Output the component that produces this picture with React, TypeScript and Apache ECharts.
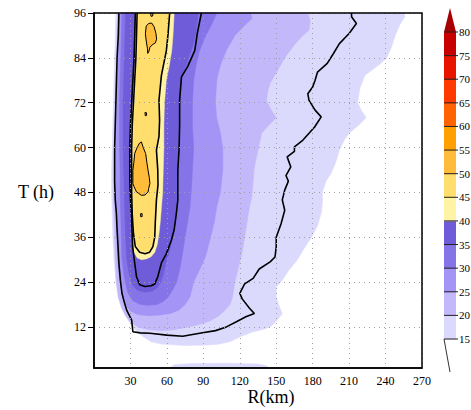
import React, { useEffect, useRef } from "react";
import * as echarts from "echarts";

// ---------- axes ----------
const R_MIN = 0;
const R_MAX = 270;
const R_STEP = 30;
const T_MIN = 1;
const T_MAX = 96;
const T_TICKS = [12, 24, 36, 48, 60, 72, 84, 96];

// ---------- colour scale ----------
const LEVELS = [15, 20, 25, 30, 35, 40, 45, 50, 55, 60, 65, 70, 75, 80];
const BAND_COLORS = [
  "#dcdafc", "#c2b8fa", "#a394f6", "#8474e8", "#6e5cd8",
  "#fff4a6", "#ffde6e", "#ffbb3a", "#ffa000", "#ff6400",
  "#ff3a00", "#e81400", "#c80000",
];
const ABOVE_COLOR = "#a80000";

// ---------- shaded regions (value >= level), points are [R km, T h] ----------
const SHADE_15 = [
  [18, 96], [17.5, 90], [17, 84], [16.5, 78], [16, 72], [15.5, 66], [15, 60], [14.5, 54], [14.5, 48], [15, 42],
  [15.5, 36], [16.5, 30], [18, 24], [20, 20], [22.5, 17], [25, 15.5], [28, 13.8], [33, 11.5], [40, 9.5], [47, 8],
  [55, 7.4], [75, 7.0], [90, 7.1], [101, 7.3], [112, 8], [120, 9.3], [130, 10.6], [140, 11.4], [145, 12], [150, 13.5],
  [155, 15.5], [152, 18], [150, 20], [150, 22.6], [155, 24.5], [160, 27], [167, 29.8], [173, 33], [179, 36], [184, 39],
  [187, 42.4], [188, 45], [188, 48], [191, 51], [195, 53], [199, 56], [202, 59.3], [206, 62], [210, 63.8], [218, 66],
  [224, 68], [220, 70], [217, 72], [219, 76], [223, 79.3], [230, 81], [236, 82.5], [241, 84], [245, 87], [248, 90],
  [252, 93], [256, 95], [255, 96],
];
const SHADE_15_EDGE = [[62, 1], [66, 1.9], [80, 2.2], [110, 2.3], [135, 2.1], [142, 1.6], [144, 1]];
const SHADE_20 = [
  [19.5, 96], [19, 90], [18.5, 84], [18, 78], [17.5, 72], [17, 66], [16.5, 60], [16, 54], [16, 48], [16.5, 42],
  [17, 36], [17.5, 30], [18.5, 24], [20, 20], [23, 17], [26, 15], [30, 13.3], [36, 12], [44, 11.3], [55, 11],
  [65, 11.2], [75, 11.8], [85, 12.5], [95, 13.5], [103, 15], [108, 16.5], [112, 18], [114, 20], [116, 24], [119, 28],
  [122, 32], [124, 36], [126, 40], [128, 44], [130, 47], [131, 51], [132, 54.7], [135, 59.3], [138, 63.8], [144, 66],
  [150, 68], [146, 70], [142, 72.6], [143, 75], [145, 77.2], [150, 80], [157, 84], [165, 87.5], [172, 90], [177, 91.4],
  [178, 94], [176, 96],
];
const SHADE_25 = [
  [21, 96], [20.5, 90], [20, 84], [19.5, 78], [19, 72], [18.5, 66], [18, 60], [18, 54], [18, 48], [18.5, 42],
  [19, 36], [19.5, 30], [21, 25], [23, 21], [26, 18], [30, 16.2], [36, 15.3], [45, 15], [55, 15.2], [63, 15.6],
  [70, 16.5], [75, 18], [79, 20], [82, 24], [88, 28], [92, 31], [96, 36], [99, 40], [101, 44], [104, 48],
  [106, 54], [106, 60], [104, 64], [101, 68], [100, 72], [101, 78], [104, 82], [109, 86], [116, 90], [125, 93],
  [130, 94.5], [129, 96],
];
const SHADE_30 = [
  [23, 96], [22.5, 90], [22, 84], [21.5, 78], [21, 72], [21, 66], [21, 60], [21.5, 54], [21.5, 48], [22, 42],
  [22.5, 36], [23, 30], [25, 25], [28, 21], [32, 19], [38, 18], [45, 17.8], [52, 18], [57, 18.8], [61, 20],
  [65, 22], [68, 24], [71, 28], [73, 32], [75, 36], [77, 40], [79, 44], [80, 48], [81, 54], [82, 60],
  [81, 66], [81, 72], [82, 78], [84, 82], [87, 86], [92, 90], [97, 93], [101, 96],
];
const SHADE_35 = [
  [26, 96], [25.5, 90], [25, 84], [24.5, 78], [24, 72], [24, 66], [24, 60], [24.5, 54], [25, 48], [25.5, 42],
  [26, 36], [27, 30], [29, 26], [32, 23], [36, 21.8], [42, 21.3], [48, 21.6], [52, 22.5], [55, 24], [57, 26],
  [59, 29], [62, 32], [64, 35], [66, 39], [67.5, 43], [68.5, 48], [69, 54], [69.5, 60], [70, 66], [70.5, 72],
  [72, 78], [75, 81], [78, 84], [82, 88], [84, 91], [85, 94], [86, 96],
];
const SHADE_40 = [
  [35, 96], [34.5, 90], [34, 84], [33, 78], [32, 72], [31, 66], [30.5, 60], [30.5, 54], [30.5, 48], [31, 42],
  [32, 36], [33, 32], [35.5, 30.5], [39, 30], [43, 30.2], [47, 30.8], [50, 32], [52, 34], [53.5, 37], [54.5, 40],
  [55.5, 44], [56.5, 48], [57, 54], [57.5, 60], [57.5, 66], [58, 72], [59.5, 78], [62, 82], [64, 86], [65, 90],
  [65.5, 93], [66, 96],
];
const SHADE_45 = [
  [36.5, 96], [36, 90], [35.5, 84], [34.5, 78], [33.5, 72], [32.5, 66], [32, 60], [32, 54], [32, 48], [32.5, 42],
  [33.5, 36], [35, 34], [38, 32.5], [42, 32], [45, 32.3], [47.5, 33.5], [49, 35], [50, 38], [50.5, 42], [51.5, 46],
  [52, 50], [52, 54], [51.5, 59], [53.5, 63], [53.5, 68], [53, 72], [54, 76], [55.5, 80], [57.5, 84], [59.5, 87],
  [61, 90], [61.5, 93], [62, 96],
];
const PATCH_50_UPPER = [
  [45, 93.2], [47.5, 93.3], [49.5, 92.3], [51, 90.5], [51.5, 89], [50.5, 88], [48, 87.5], [46, 86.8], [45, 85.5],
  [44.2, 85.2], [44, 86.5], [43, 88.5], [42.3, 90.5], [43, 92.5], [45, 93.2],
];
const PATCH_50_TOP = [[46.5, 96], [48.5, 96], [48.3, 95.2], [47, 95.1], [46.5, 96]];
const PATCH_50_LOWER = [
  [39, 61.5], [40.5, 60], [42.5, 58.4], [43.5, 56], [44.5, 53.9], [45.5, 52], [46, 50.4], [45, 49], [44.5, 48.1],
  [42, 47.3], [39, 47.2], [36.5, 47.8], [35, 48.1], [33, 49.5], [32, 50.4], [32, 53.9], [32.8, 56], [33.5, 58.4],
  [35.5, 60], [37.5, 61.2], [39, 61.5],
];
const PATCH_50_DOT_A = [[42, 69.4], [43.2, 69.3], [43.3, 68.6], [42.2, 68.5], [42, 69.4]];
const PATCH_50_DOT_B = [[38.4, 42.3], [39.6, 42.3], [39.6, 41.5], [38.4, 41.5], [38.4, 42.3]];

// ---------- contour lines ----------
const CONTOUR_17 = [
  [20.5, 96], [20, 90], [19, 84], [18.5, 78], [18, 72], [17.5, 66], [17, 60], [17, 54], [17, 51], [17.5, 46],
  [18.4, 42.4], [19, 38], [19.8, 33.4], [20.5, 29], [21.7, 24.5], [23, 21], [25, 18.5], [27, 16.4], [31, 13.8],
  [32, 10.7], [38, 10.4], [46, 10.3], [60, 9.8], [73, 9.5], [87, 10.3], [100, 11], [109, 12], [118, 13.5],
  [125, 14.7], [132, 15.6], [128, 17], [122, 19.5], [120, 21], [124, 23.5], [131, 25], [136, 27.5], [145, 29.4],
  [149, 30.7], [150, 33.4], [150, 36], [154, 39.6], [157, 43.2], [155, 46], [157, 48.6], [160, 51], [158, 52.5],
  [162, 54.8], [159, 57.5], [165, 59], [165, 60.2], [172, 62], [177, 63.8], [181.6, 65.5], [187, 68.2], [182, 70],
  [177, 72.6], [176, 74.4], [180, 76.2], [182, 78], [184, 80.2], [192, 82.5], [197, 85.1], [202, 87.8], [210, 90.5],
  [216, 93.2], [212, 95], [212, 96],
];
const CONTOUR_33 = [
  [34, 96], [33.5, 90], [33, 84], [32, 78], [31, 72], [30, 66], [29.5, 60], [29.5, 54], [29.5, 51], [30, 46],
  [30.8, 42.4], [31.3, 38], [31.8, 33.4], [33.5, 29.1], [35, 25.4], [37.6, 23.3], [42, 22.8], [47, 23], [50, 23.5],
  [52.5, 25.4], [55.5, 29.1], [59.6, 31.6], [63.7, 35.2], [66, 38], [67.8, 42.4], [69, 46], [69, 51], [69, 54],
  [70, 59.3], [70.5, 66], [70.5, 72.7], [72, 78.9], [77, 81.6], [83, 86], [85, 90.5], [88.4, 96],
];
const CONTOUR_41 = [
  [35.5, 96], [35, 90], [34.5, 84], [33.5, 78], [32.5, 72], [31.5, 66], [31, 60], [31, 54], [31, 48], [31.5, 42],
  [32.5, 37], [34, 33.5], [37.6, 32], [42, 31.6], [45.8, 32], [48.5, 33.5], [50, 36], [50.5, 40.3], [51.4, 46],
  [52.7, 50], [52.5, 54], [51.4, 59.3], [53.5, 63], [54, 67.3], [53.5, 72.7], [55.5, 79.3], [59.6, 86], [61, 90.5],
  [62.3, 96],
];

const SHADE_LAYERS = [
  { level: 15, pts: SHADE_15 },
  { level: 15, pts: SHADE_15_EDGE },
  { level: 20, pts: SHADE_20 },
  { level: 25, pts: SHADE_25 },
  { level: 30, pts: SHADE_30 },
  { level: 35, pts: SHADE_35 },
  { level: 40, pts: SHADE_40 },
  { level: 45, pts: SHADE_45 },
  { level: 50, pts: PATCH_50_UPPER },
  { level: 50, pts: PATCH_50_TOP },
  { level: 50, pts: PATCH_50_LOWER },
  { level: 50, pts: PATCH_50_DOT_A },
  { level: 50, pts: PATCH_50_DOT_B },
];

const CONTOURS = [
  { pts: CONTOUR_17, width: 1.6 },
  { pts: CONTOUR_33, width: 1.6 },
  { pts: CONTOUR_41, width: 1.6 },
  { pts: PATCH_50_UPPER, width: 1 },
  { pts: PATCH_50_TOP, width: 1 },
  { pts: PATCH_50_LOWER, width: 1 },
  { pts: PATCH_50_DOT_A, width: 1 },
  { pts: PATCH_50_DOT_B, width: 1 },
];

const FONT = "'Liberation Serif', 'DejaVu Serif', serif";

function colorOf(level: number) {
  return BAND_COLORS[LEVELS.indexOf(level)];
}

function buildColorbar() {
  const x0 = 444;
  const w = 12;
  const yBottom = 339;
  const yTop = 32;
  const step = (yBottom - yTop) / (LEVELS.length - 1);
  const els: any[] = [];
  BAND_COLORS.forEach((c, i) => {
    els.push({
      type: "rect",
      shape: { x: x0, y: yBottom - (i + 1) * step, width: w, height: step + 0.5 },
      style: { fill: c },
    });
  });
  els.push({
    type: "polygon",
    shape: { points: [[x0, yTop], [x0 + w, yTop], [x0 + w / 2, 8]] },
    style: { fill: ABOVE_COLOR },
  });
  LEVELS.forEach((lv, i) => {
    const y = yBottom - i * step;
    els.push({
      type: "line",
      shape: { x1: x0, y1: y, x2: x0 + w + 2, y2: y },
      style: { stroke: "#222", lineWidth: 1 },
    });
    els.push({
      type: "text",
      x: x0 + w + 3,
      y,
      style: { text: String(lv), fill: "#000", font: `11px ${FONT}`, verticalAlign: "middle", align: "left" },
    });
  });
  els.push({
    type: "line",
    shape: { x1: x0, y1: yBottom, x2: x0 + 6, y2: 372 },
    style: { stroke: "#333", lineWidth: 1 },
  });
  return els;
}

export default function App() {
  const ref = useRef<HTMLDivElement>(null);
  useEffect(() => {
    const chart = echarts.init(ref.current!, null, { renderer: "svg" });
    const option: any = {
      animation: false,
      backgroundColor: "#fff",
      grid: {
        left: 94,
        right: 49,
        top: 13,
        bottom: 42,
        show: true,
        z: 10,
        borderColor: "#000",
        borderWidth: 1.5,
        backgroundColor: "transparent",
      },
      xAxis: {
        type: "value",
        min: R_MIN,
        max: R_MAX,
        interval: R_STEP,
        z: 5,
        axisLine: { show: true, lineStyle: { color: "#000", width: 1.5 } },
        axisTick: { show: false },
        axisLabel: {
          color: "#000",
          fontFamily: FONT,
          fontSize: 12,
          margin: 7,
          formatter: (v: number) => (v === R_MIN ? "" : String(v)),
        },
        splitLine: { show: true, lineStyle: { color: "#a0a0a0", type: [1, 4], width: 1 } },
      },
      yAxis: {
        type: "value",
        min: T_MIN,
        max: T_MAX,
        z: 5,
        axisLine: { show: true, lineStyle: { color: "#000", width: 1.5 } },
        axisTick: { show: true, length: 6, customValues: T_TICKS, lineStyle: { color: "#000" } },
        axisLabel: {
          color: "#000",
          fontFamily: FONT,
          fontSize: 12,
          margin: 8,
          customValues: T_TICKS,
        },
        splitLine: { show: true, lineStyle: { color: "#a0a0a0", type: [1, 4], width: 1 } },
      },
      series: [
        {
          type: "custom",
          coordinateSystem: "cartesian2d",
          z: 1,
          silent: true,
          data: SHADE_LAYERS.map((l) => l.pts[0]),
          renderItem: (params: any, api: any) => {
            const layer = SHADE_LAYERS[params.dataIndex];
            const points = layer.pts.map((p) => api.coord(p));
            const c = colorOf(layer.level);
            return {
              type: "polygon",
              shape: { points },
              style: { fill: c, stroke: c, lineWidth: 0.5 },
            };
          },
        },
        ...CONTOURS.map((c) => ({
          type: "line",
          data: c.pts,
          z: 3,
          silent: true,
          symbol: "none",
          showSymbol: false,
          lineStyle: { color: "#000", width: c.width },
        })),
      ],
      graphic: [
        {
          type: "text",
          x: 36,
          y: 192,
          style: { text: "T (h)", fill: "#000", font: `18px ${FONT}`, align: "center", verticalAlign: "middle" },
        },
        {
          type: "text",
          x: 271,
          y: 397,
          style: { text: "R(km)", fill: "#000", font: `18px ${FONT}`, align: "center", verticalAlign: "middle" },
        },
        ...buildColorbar(),
      ],
    };
    chart.setOption(option);
    return () => chart.dispose();
  }, []);
  return <div ref={ref} style={{ position: "fixed", left: 0, top: 0, width: 471, height: 410 }} />;
}
